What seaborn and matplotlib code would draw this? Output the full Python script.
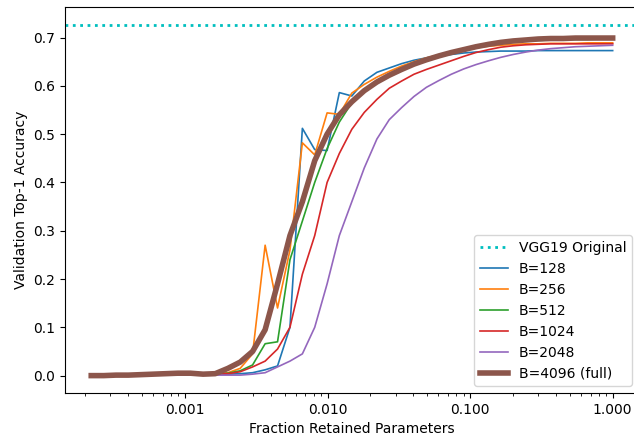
import matplotlib
matplotlib.use("Agg")
import matplotlib.pyplot as plt
import matplotlib.ticker as mticker
import seaborn as sns
import pandas as pd

# Fracción de parámetros retenidos (eje x, escala log)
fraction = [0.000220, 0.000269, 0.000328, 0.000401, 0.000490, 0.000599, 0.000732,
            0.000895, 0.00109, 0.00134, 0.00163, 0.00200, 0.00244, 0.00298,
            0.00365, 0.00446, 0.00545, 0.00666, 0.00813, 0.00993, 0.0121,
            0.0148, 0.0181, 0.0222, 0.0271, 0.0331, 0.0404, 0.0494, 0.0604,
            0.0738, 0.0902, 0.110, 0.135, 0.164, 0.201, 0.246, 0.300, 0.367,
            0.449, 0.548, 0.670, 0.818, 1.0]

acc_128 = [0.001, 0.001, 0.001, 0.001, 0.001, 0.001, 0.002, 0.002, 0.002, 0.002,
           0.003, 0.003, 0.004, 0.006, 0.012, 0.02, 0.10, 0.512, 0.468, 0.466,
           0.586, 0.579, 0.61, 0.628, 0.637, 0.646, 0.653, 0.658, 0.662, 0.665,
           0.668, 0.670, 0.671, 0.672, 0.672, 0.672, 0.673, 0.673, 0.673, 0.673,
           0.673, 0.673, 0.673]

acc_256 = [0.001, 0.001, 0.001, 0.001, 0.001, 0.002, 0.002, 0.003, 0.003, 0.003,
           0.004, 0.006, 0.015, 0.045, 0.27, 0.14, 0.26, 0.482, 0.457, 0.544,
           0.541, 0.585, 0.603, 0.618, 0.63, 0.641, 0.650, 0.658, 0.664, 0.670,
           0.675, 0.679, 0.682, 0.684, 0.686, 0.687, 0.687, 0.688, 0.688, 0.688,
           0.689, 0.689, 0.689]

acc_512 = [0.001, 0.001, 0.001, 0.001, 0.001, 0.001, 0.002, 0.002, 0.002, 0.003,
           0.003, 0.005, 0.010, 0.022, 0.066, 0.07, 0.24, 0.32, 0.40, 0.47,
           0.525, 0.565, 0.59, 0.606, 0.62, 0.632, 0.643, 0.652, 0.660, 0.667,
           0.673, 0.679, 0.684, 0.688, 0.691, 0.693, 0.694, 0.695, 0.696, 0.696,
           0.696, 0.697, 0.697]

acc_1024 = [0.001, 0.001, 0.001, 0.001, 0.001, 0.001, 0.001, 0.002, 0.002, 0.002,
            0.003, 0.004, 0.008, 0.018, 0.03, 0.055, 0.10, 0.21, 0.29, 0.40,
            0.46, 0.51, 0.545, 0.572, 0.595, 0.61, 0.624, 0.634, 0.643, 0.652,
            0.661, 0.669, 0.675, 0.680, 0.683, 0.685, 0.686, 0.687, 0.687, 0.687,
            0.687, 0.687, 0.687]

acc_2048 = [0.001, 0.001, 0.001, 0.001, 0.001, 0.001, 0.001, 0.001, 0.001, 0.001,
            0.001, 0.001, 0.001, 0.003, 0.006, 0.018, 0.03, 0.045, 0.10, 0.19,
            0.29, 0.36, 0.43, 0.49, 0.53, 0.555, 0.578, 0.597, 0.611, 0.624,
            0.635, 0.644, 0.652, 0.659, 0.665, 0.670, 0.674, 0.677, 0.679, 0.681,
            0.682, 0.683, 0.684]

acc_4096 = [0.000, 0.000, 0.001, 0.001, 0.002, 0.003, 0.004, 0.005, 0.005, 0.003,
            0.004, 0.015, 0.028, 0.05, 0.095, 0.19, 0.29, 0.36, 0.445, 0.50,
            0.54, 0.567, 0.59, 0.608, 0.622, 0.634, 0.645, 0.654, 0.662, 0.669,
            0.675, 0.681, 0.686, 0.690, 0.693, 0.695, 0.697, 0.698, 0.698, 0.699,
            0.699, 0.699, 0.699]

vgg19_original = 0.727

series_labels = ["B=128", "B=256", "B=512", "B=1024", "B=2048", "B=4096 (full)"]
series_values = [acc_128, acc_256, acc_512, acc_1024, acc_2048, acc_4096]

# Tabla larga para seaborn
filas = []
for etiqueta, valores in zip(series_labels, series_values):
    for f, a in zip(fraction, valores):
        filas.append({"fraction": f, "accuracy": a, "batch": etiqueta})
df = pd.DataFrame(filas)

fig = plt.figure(figsize=(6.34, 4.37), dpi=100)
ax = fig.add_axes([0.1025, 0.1007, 0.905, 0.883])

ax.axhline(vgg19_original, color="c", linestyle=":", linewidth=2, label="VGG19 Original")

colores = ["C0", "C1", "C2", "C3", "C4", "C5"]
for etiqueta, color in zip(series_labels, colores):
    lw = 4 if etiqueta.startswith("B=4096") else 1.2
    sns.lineplot(data=df[df["batch"] == etiqueta], x="fraction", y="accuracy",
                 color=color, linewidth=lw, label=etiqueta, ax=ax)

ax.set_xscale("log")
ax.set_xlim(0.000144, 1.524)
ax.set_ylim(-0.036, 0.763)
ax.xaxis.set_major_formatter(mticker.FormatStrFormatter("%.3f"))
ax.set_xlabel("Fraction Retained Parameters")
ax.set_ylabel("Validation Top-1 Accuracy")
ax.legend(loc="lower right")

fig.savefig("out.png", dpi=100)
